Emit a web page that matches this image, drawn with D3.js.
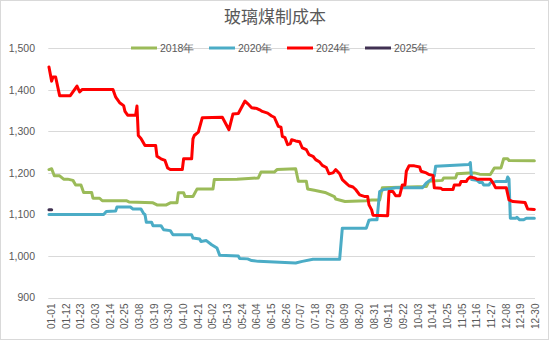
<!DOCTYPE html>
<html><head><meta charset="utf-8">
<script src="https://cdn.jsdelivr.net/npm/d3@7"></script>
<style>
html,body{margin:0;padding:0;background:#fff;}
svg{display:block;}
</style></head>
<body>
<svg id="chart" width="550" height="341"></svg>
<script>
// ---- data (day index 0..364 from 01-01, value) ----
const title = "玻璃煤制成本";
const seriesNames = ["2018年", "2020年", "2024年", "2025年"];
const seriesColors = ["#9BBB59", "#4BACC6", "#FF0000", "#403152"];
const yTicks = [900, 1000, 1100, 1200, 1300, 1400, 1500];
const xTickLabels = ["01-01","01-12","01-23","02-03","02-14","02-25","03-08","03-19","03-30","04-10","04-21","05-02","05-13","05-24","06-04","06-15","06-26","07-07","07-18","07-29","08-09","08-20","08-31","09-11","09-22","10-03","10-14","10-25","11-05","11-16","11-27","12-08","12-19","12-30"];
const dayCount = 365;

const s2018 = [[0,1208],[2,1210],[4,1193],[8,1193],[11,1185],[14,1185],[18,1182],[20,1171],[24,1171],[26,1153],[32,1153],[33,1139],[38,1139],[40,1133],[58,1133],[60,1130],[78,1128],[81,1123],[88,1123],[91,1128],[96,1128],[97,1152],[101,1152],[102,1143],[108,1143],[111,1161],[123,1161],[124,1184],[141,1185],[157,1188],[159,1202],[169,1202],[171,1208],[185,1210],[187,1180],[193,1180],[194,1161],[199,1158],[207,1153],[214,1143],[215,1137],[222,1131],[238,1133],[242,1135],[248,1135],[250,1164],[283,1167],[285,1180],[295,1182],[296,1188],[305,1188],[306,1198],[315,1200],[319,1200],[323,1197],[331,1196],[334,1212],[339,1212],[341,1234],[344,1234],[345,1230],[364,1229]];

const s2020 = [[0,1100],[41,1100],[43,1107],[50,1108],[51,1118],[61,1118],[63,1113],[69,1113],[71,1102],[72,1100],[73,1081],[77,1081],[78,1073],[84,1073],[86,1063],[91,1061],[93,1051],[107,1051],[108,1043],[113,1041],[114,1035],[118,1037],[122,1027],[126,1019],[128,1002],[142,1000],[143,994],[149,993],[152,989],[157,987],[185,983],[190,987],[198,992],[218,992],[220,1067],[238,1067],[240,1086],[242,1087],[246,1087],[248,1155],[251,1160],[256,1162],[260,1164],[280,1164],[283,1176],[287,1185],[289,1193],[290,1216],[315,1220],[316,1225],[317,1184],[321,1182],[323,1177],[325,1177],[326,1171],[330,1171],[331,1176],[335,1179],[343,1179],[344,1190],[345,1185],[346,1091],[350,1091],[351,1093],[353,1087],[356,1087],[358,1091],[364,1091]];

const s2024 = [[0,1455],[2,1421],[3,1431],[5,1431],[8,1386],[16,1386],[21,1409],[23,1395],[25,1401],[48,1401],[50,1383],[51,1378],[53,1369],[56,1362],[57,1348],[59,1339],[65,1339],[66,1361],[67,1290],[69,1283],[72,1266],[80,1266],[81,1240],[84,1234],[87,1230],[89,1212],[91,1208],[100,1208],[101,1234],[107,1234],[108,1282],[109,1290],[112,1298],[115,1333],[130,1334],[135,1304],[138,1342],[142,1343],[147,1373],[149,1367],[152,1357],[156,1355],[158,1352],[160,1348],[164,1344],[167,1337],[169,1334],[172,1312],[174,1310],[175,1288],[177,1285],[179,1268],[181,1270],[182,1280],[185,1277],[188,1275],[190,1260],[193,1256],[195,1244],[198,1240],[200,1232],[203,1226],[205,1218],[208,1213],[210,1198],[213,1200],[215,1208],[218,1198],[220,1184],[223,1175],[225,1169],[228,1166],[230,1160],[233,1147],[237,1143],[239,1143],[240,1123],[242,1111],[243,1098],[254,1097],[255,1155],[258,1155],[260,1145],[263,1145],[265,1171],[267,1171],[268,1204],[270,1217],[274,1217],[278,1214],[279,1204],[283,1200],[285,1196],[288,1194],[289,1164],[294,1163],[295,1160],[303,1160],[304,1171],[308,1171],[309,1179],[313,1179],[314,1185],[316,1190],[319,1188],[321,1185],[331,1185],[333,1176],[335,1164],[343,1164],[345,1135],[348,1131],[357,1129],[359,1113],[364,1112]];

const s2025 = [[0,1111],[2,1111]];

const allSeries = [s2018, s2020, s2024, s2025];

// ---- drawing ----
const svg = d3.select("#chart");
const W = 550, H = 341;
const font = "'Liberation Sans', Arial, sans-serif";

svg.append("rect").attr("x",0.5).attr("y",0.5).attr("width",W-2).attr("height",H-2)
  .attr("fill","#fff").attr("stroke","#D9D9D9").attr("stroke-width",1);

const plotL = 48.3, plotR = 535, plotT = 48.3, plotB = 297.5;
const x = d3.scaleLinear().domain([-0.5, dayCount - 0.5]).range([plotL, plotR]);
const y = d3.scaleLinear().domain([900, 1500]).range([plotB, plotT]);

// gridlines
svg.append("g").selectAll("line").data(yTicks).join("line")
  .attr("x1", plotL).attr("x2", plotR)
  .attr("y1", d => Math.round(y(d)) + 0.5).attr("y2", d => Math.round(y(d)) + 0.5)
  .attr("stroke", "#D9D9D9").attr("stroke-width", 1);

// y axis labels
const yAxis = d3.axisLeft(y).tickValues(yTicks).tickFormat(d3.format(",")).tickSize(0).tickPadding(0);
const gy = svg.append("g").attr("transform", `translate(35,0)`).call(yAxis);
gy.select(".domain").remove();
gy.selectAll("text").attr("font-family", font).attr("font-size", "10.5px").attr("fill", "#595959");

// x axis labels
const tickDays = xTickLabels.map((_, i) => i * 11);
const xAxis = d3.axisBottom(x).tickValues(tickDays).tickFormat((d, i) => xTickLabels[i]).tickSize(0).tickPadding(0);
const gx = svg.append("g").attr("transform", `translate(0,${plotB})`).call(xAxis);
gx.select(".domain").remove();
gx.selectAll("text")
  .attr("font-family", font).attr("font-size", "10px").attr("fill", "#595959")
  .attr("text-anchor", "end")
  .attr("transform", "rotate(-90)")
  .attr("x", -6).attr("y", 2).attr("dy", "0.35em");

// lines
const line = d3.line().x(d => x(d[0])).y(d => y(d[1]));
svg.append("g").selectAll("path").data(allSeries).join("path")
  .attr("d", line)
  .attr("fill", "none")
  .attr("stroke", (d, i) => seriesColors[i])
  .attr("stroke-width", 3)
  .attr("stroke-linejoin", "round")
  .attr("stroke-linecap", "round");

// title
svg.append("text").attr("x", W / 2).attr("y", 23).attr("text-anchor", "middle")
  .attr("font-family", "'Noto Sans CJK SC', sans-serif").attr("font-size", "17px")
  .attr("fill", "#595959").text(title);

// legend
const legX = [131, 209, 287, 365];
const legY = 48;
const lg = svg.append("g").selectAll("g").data(seriesNames).join("g")
  .attr("transform", (d, i) => `translate(${legX[i]},${legY})`);
lg.append("line").attr("x1", 0).attr("x2", 26).attr("y1", 0).attr("y2", 0)
  .attr("stroke", (d, i) => seriesColors[i]).attr("stroke-width", 3);
lg.append("text").attr("x", 29).attr("y", 0).attr("dy", "0.35em")
  .attr("font-family", font).attr("font-size", "10.5px").attr("fill", "#595959")
  .text(d => d);
</script>
</body></html>
